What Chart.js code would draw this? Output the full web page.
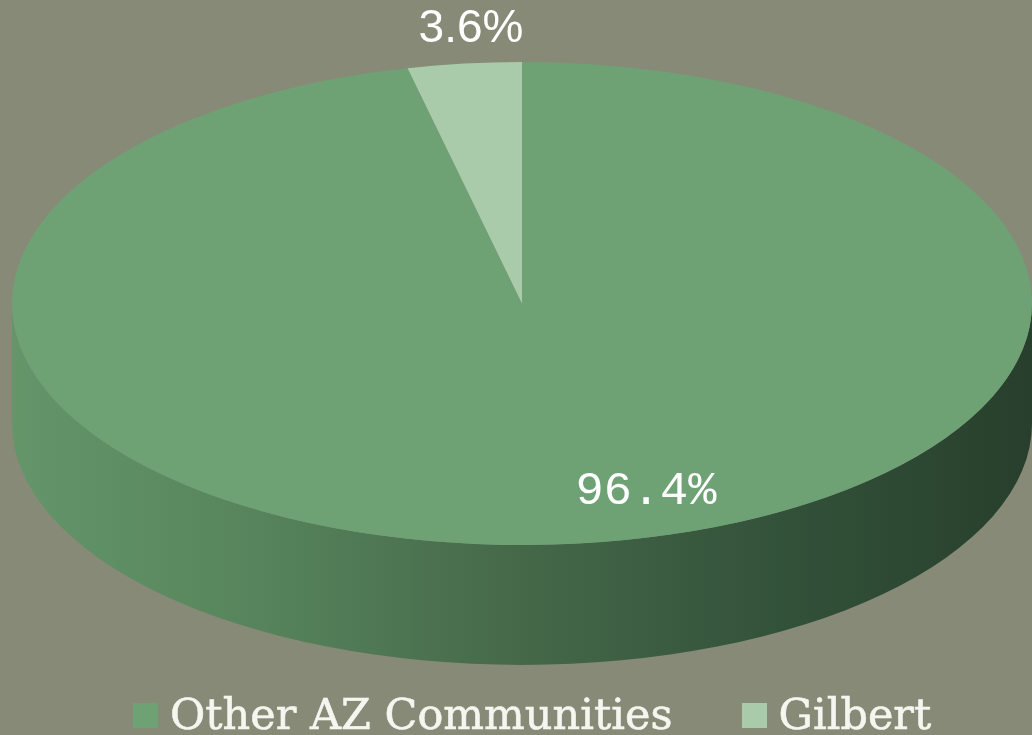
<!DOCTYPE html>
<html>
<head>
<meta charset="utf-8">
<script src="https://cdn.jsdelivr.net/npm/chart.js@4/dist/chart.umd.min.js"></script>
<style>
  html, body { margin: 0; padding: 0; background: #888a78; }
  #wrap { width: 1032px; height: 735px; position: relative; overflow: hidden; }
  #legend { position: absolute; left: 133px; top: 693px; display: flex; align-items: flex-start;
            font-family: "DejaVu Serif", serif; font-size: 43px; line-height: 43px; color: #f6f6f0;
            -webkit-text-stroke: 0.6px #f6f6f0; white-space: nowrap; }
  .item { display: flex; align-items: flex-start; margin-right: 69px; }
  .box { width: 25px; height: 25px; margin-top: 10px; margin-right: 12px; }
</style>
</head>
<body>
<div id="wrap"><canvas id="c"></canvas><div id="legend"></div></div>
<script>
// ---- data ----
const categories = ['Other AZ Communities', 'Gilbert'];
const shares = [96.4, 3.6];
const valueLabels = ['96.4%', '3.6%'];
const sliceColors = ['#6ea275', '#aacbaa'];

// ---- layout (3D ellipse look) ----
const ELL = { cx: 522, cy: 303.5, rx: 510, ry: 241.5, depth: 120 };
const LABEL_POS = [ { x: 646, y: 492, font: '47px "Liberation Mono"' },
                    { x: 471, y: 29,  font: '46px "Liberation Sans"' } ];

function setEllipseTransform(chart, ctx) {
  const arc = chart.getDatasetMeta(0).data[0];
  const r0 = arc.outerRadius;
  const sx = ELL.rx / r0, sy = ELL.ry / r0;
  ctx.setTransform(sx, 0, 0, sy, ELL.cx - sx * arc.x, ELL.cy - sy * arc.y);
}

const pie3d = {
  id: 'pie3d',
  beforeDatasetsDraw(chart) {
    const ctx = chart.ctx;
    ctx.save();
    const { cx, cy, rx, ry, depth } = ELL;
    const g = ctx.createLinearGradient(cx - rx, 0, cx + rx, 0);
    g.addColorStop(0, '#64966a');
    g.addColorStop(0.25, '#56835b');
    g.addColorStop(0.5, '#456849');
    g.addColorStop(0.75, '#33523a');
    g.addColorStop(1, '#273f2c');
    ctx.beginPath();
    ctx.ellipse(cx, cy, rx, ry, 0, 0, Math.PI, false);
    ctx.lineTo(cx - rx, cy + depth);
    ctx.ellipse(cx, cy + depth, rx, ry, 0, Math.PI, 0, true);
    ctx.closePath();
    ctx.fillStyle = g;
    ctx.fill();
    ctx.restore();
    ctx.save();
    setEllipseTransform(chart, ctx);
  },
  afterDatasetsDraw(chart) {
    const ctx = chart.ctx;
    ctx.restore();
    ctx.save();
    ctx.fillStyle = '#ffffff';
    ctx.textAlign = 'center';
    ctx.textBaseline = 'middle';
    valueLabels.forEach((t, i) => {
      ctx.font = LABEL_POS[i].font;
      ctx.fillText(t, LABEL_POS[i].x, LABEL_POS[i].y);
    });
    ctx.restore();
  }
};

const chart = new Chart(document.getElementById('c'), {
  type: 'pie',
  data: {
    labels: categories,
    datasets: [{
      data: shares,
      backgroundColor: sliceColors,
      borderWidth: 0
    }]
  },
  options: {
    responsive: true,
    maintainAspectRatio: false,
    animation: false,
    layout: { padding: 0 },
    plugins: {
      tooltip: { enabled: false },
      legend: { display: false }
    }
  },
  plugins: [pie3d]
});

// HTML legend built from the chart's own legend items
const legendEl = document.getElementById('legend');
chart.options.plugins.legend.labels.generateLabels(chart).forEach(it => {
  const item = document.createElement('div');
  item.className = 'item';
  const box = document.createElement('div');
  box.className = 'box';
  box.style.background = it.fillStyle;
  const txt = document.createElement('span');
  txt.textContent = it.text;
  item.appendChild(box);
  item.appendChild(txt);
  legendEl.appendChild(item);
});
</script>
</body>
</html>
